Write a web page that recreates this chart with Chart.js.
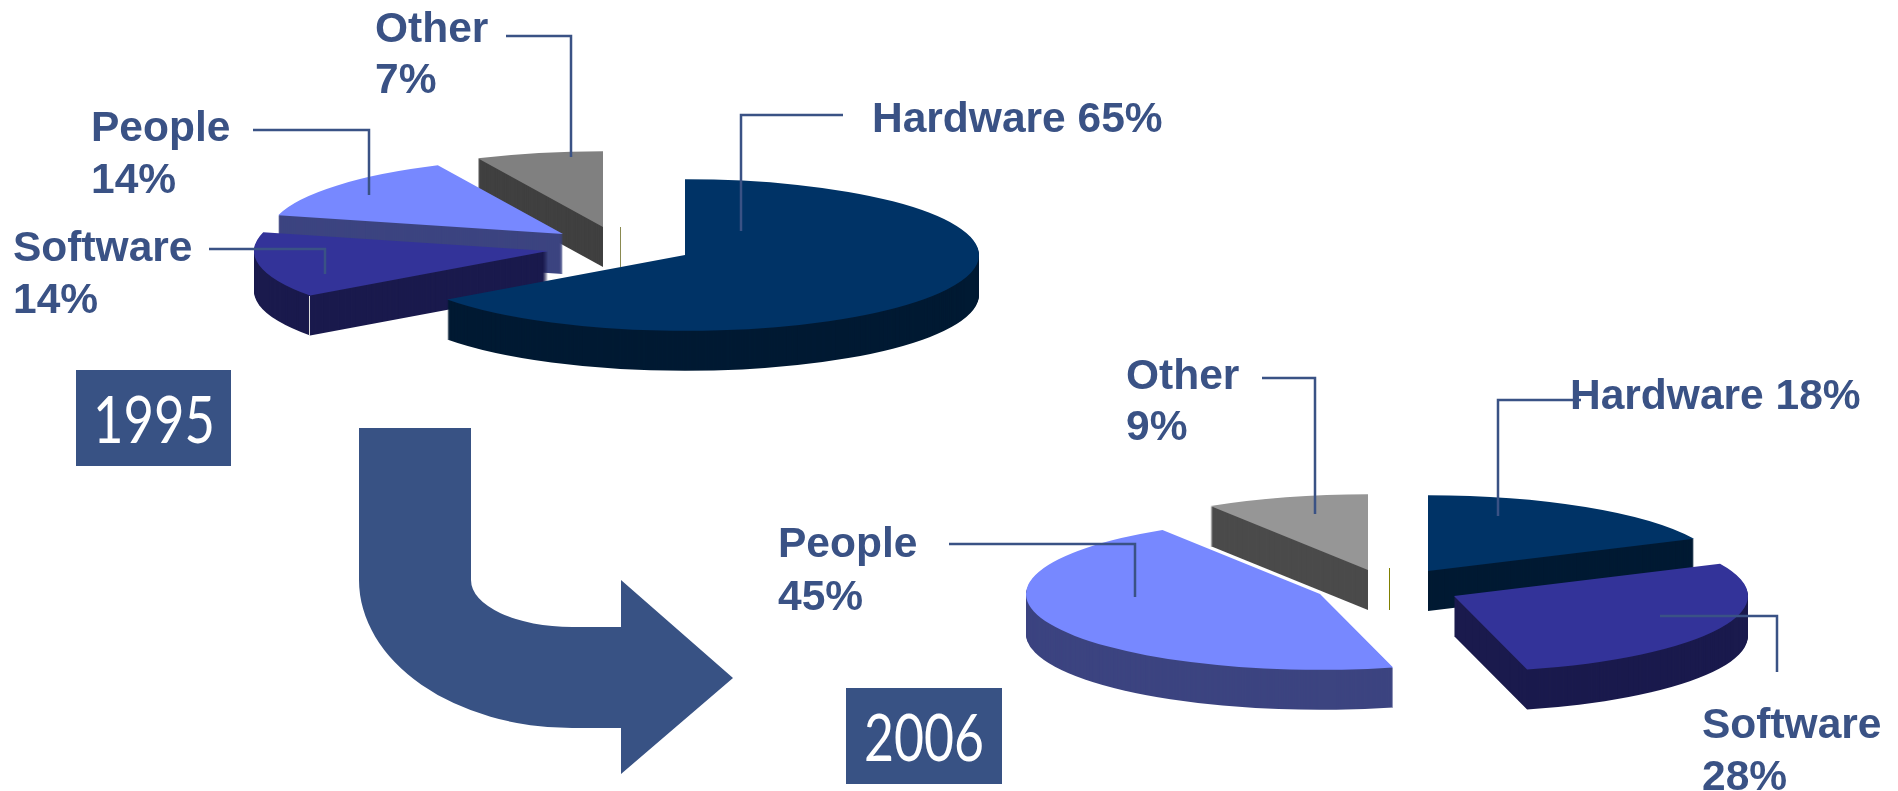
<!DOCTYPE html>
<html>
<head>
<meta charset="utf-8">
<title>IT spending 1995 / 2006</title>
<script src="https://cdn.jsdelivr.net/npm/chart.js@4/dist/chart.umd.min.js"></script>
<style>
    html, body { margin: 0; width: 1898px; height: 791px; overflow: hidden; background: #fff; }
    canvas, svg { position: absolute; }
    #overlay { left: 0; top: 0; }
    .tag { font: bold 42.5px 'Liberation Sans', Arial, sans-serif; fill: #3a5285; }
    .year { font: 66px Lato, 'Liberation Sans', sans-serif; fill: #fff; }
</style>
</head>
<body>
<svg id="overlay" width="1898" height="791" style="z-index:2"></svg>
<canvas id="pie1995" width="1000" height="270" style="left:185px;top:120px;z-index:1"></canvas>
<canvas id="pie2006" width="880" height="300" style="left:988px;top:421px;z-index:1"></canvas>

<script>
// Share of spending per category, clockwise from 12 o'clock
const categories = ['Hardware', 'Software', 'People', 'Other'];
const shares1995 = [65, 14, 14, 7];
const shares2006 = [18, 28, 45, 9];
const years = ['1995', '2006'];

const topColors1995 = ['#003366', '#333399', '#7788ff', '#808080'];
const sideColors1995 = ['#001a33', '#1a1a4d', '#3c4480', '#404040'];
const topColors2006 = ['#003366', '#333399', '#7788ff', '#969696'];
const sideColors2006 = ['#001a33', '#1a1a4d', '#3c4480', '#4b4b4b'];

// Slices were pulled apart by hand, so each one has its own shift from the hub
const shift1995 = [[0, 0], [-137, -4], [-122, -21], [-82, -28]];
const shift2006 = [[0, 0], [26, 25], [-108, 23], [-60, -1]];

// Back to front
const order1995 = [3, 2, 1, 0];
const order2006 = [3, 0, 1, 2];

const RADIUS = 294;
const TILT = 0.258;
const DEPTH = 40;

// Draws the slices as tilted 3D wedges instead of the flat default
const tiltedPie = {
    id: 'tiltedPie',
    beforeDatasetDraw(chart, args, opts) {
        const ctx = chart.ctx;
        const arcs = chart.getDatasetMeta(0).data;

        opts.order.forEach(i => {
            const arc = arcs[i];
            const x = arc.x + opts.shift[i][0];
            const y = arc.y + opts.shift[i][1];

            // sweep the wedge downwards for the side walls
            ctx.fillStyle = opts.sides[i];
            for (let d = DEPTH; d > 0; d--) {
                ctx.beginPath();
                ctx.moveTo(x, y + d);
                ctx.ellipse(x, y + d, arc.outerRadius, arc.outerRadius * TILT, 0, arc.startAngle, arc.endAngle);
                ctx.closePath();
                ctx.fill();
            }

            ctx.save();
            ctx.translate(x, y);
            ctx.scale(1, TILT);
            ctx.translate(-arc.x, -arc.y);
            arc.draw(ctx);
            ctx.restore();
        });
        return false;
    }
};

function makePie(canvasId, shares, colors, sides, shift, order) {
    return new Chart(document.getElementById(canvasId), {
        type: 'pie',
        data: {
            labels: categories,
            datasets: [{ data: shares, backgroundColor: colors, borderWidth: 0, radius: RADIUS }]
        },
        options: {
            responsive: false,
            animation: false,
            devicePixelRatio: 1,
            layout: { padding: 0 },
            plugins: {
                legend: { display: false },
                tooltip: { enabled: false },
                tiltedPie: { sides, shift, order }
            }
        },
        plugins: [tiltedPie]
    });
}

makePie('pie1995', shares1995, topColors1995, sideColors1995, shift1995, order1995);
makePie('pie2006', shares2006, topColors2006, sideColors2006, shift2006, order2006);

// --- labels, leader lines, year boxes and the arrow ---
const svg = document.getElementById('overlay');

function add(tag, attrs, text) {
    const el = document.createElementNS('http://www.w3.org/2000/svg', tag);
    for (const k in attrs) el.setAttribute(k, attrs[k]);
    if (text) el.textContent = text;
    svg.appendChild(el);
    return el;
}

function leader(points) {
    add('polyline', { points, fill: 'none', stroke: '#3a5285', 'stroke-width': 2.5 });
}

// category index, x, first baseline, second baseline (0 = name and value on one line)
function tag(shares, i, x, y1, y2) {
    const value = shares[i] + '%';
    if (y2) {
        add('text', { class: 'tag', x, y: y1 }, categories[i]);
        add('text', { class: 'tag', x, y: y2 }, value);
    } else {
        add('text', { class: 'tag', x, y: y1 }, categories[i] + ' ' + value);
    }
}

// arrow from the 1995 pie down to the 2006 pie
add('path', {
    d: 'M359 428 H471 V580 A101 47 0 0 0 572 627 H621 V580 L733 678 L621 774 V728 H572 A213 148 0 0 1 359 580 Z',
    fill: '#385284'
});

add('rect', { x: 76, y: 370, width: 155, height: 96, fill: '#385284' });
add('rect', { x: 846, y: 688, width: 156, height: 96, fill: '#385284' });

// the year figures are set condensed
add('text', { class: 'year', x: 93, y: 443, textLength: 122, lengthAdjust: 'spacingAndGlyphs' }, years[0]);
add('text', { class: 'year', x: 864, y: 761, textLength: 120, lengthAdjust: 'spacingAndGlyphs' }, years[1]);

tag(shares1995, 3, 375, 42, 93);
tag(shares1995, 2, 91, 141, 193);
tag(shares1995, 1, 13, 261, 313);
tag(shares1995, 0, 872, 132, 0);
tag(shares2006, 3, 1126, 389, 440);
tag(shares2006, 2, 778, 557, 610);
tag(shares2006, 1, 1702, 738, 790);
tag(shares2006, 0, 1570, 409, 0);

leader('506,36 571,36 571,157');
leader('253,130 369,130 369,195');
leader('209,249 325,249 325,274');
leader('843,115 741,115 741,231');
leader('1262,378 1315,378 1315,514');
leader('949,544 1135,544 1135,597');
leader('1581,400 1498,400 1498,516');
leader('1660,616 1777,616 1777,672');

// thin marks left of the hardware slices
add('line', { x1: 620.5, y1: 227, x2: 620.5, y2: 267, stroke: '#8a8a50', 'stroke-width': 1 });
add('line', { x1: 1389.5, y1: 568, x2: 1389.5, y2: 610, stroke: '#808000', 'stroke-width': 1 });
add('line', { x1: 309.5, y1: 296, x2: 309.5, y2: 336, stroke: '#dddddd', 'stroke-width': 1 });
</script>
</body>
</html>
